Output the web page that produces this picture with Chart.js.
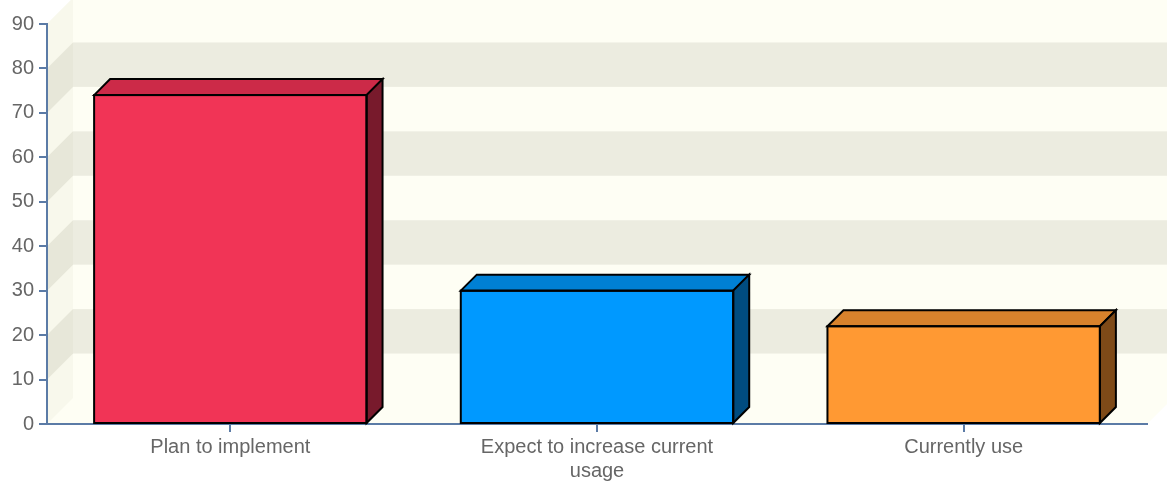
<!DOCTYPE html>
<html lang="en">
<head>
    <meta charset="UTF-8">
    <title>Usage chart</title>
    <script src="https://cdn.jsdelivr.net/npm/chart.js"></script>
    <style>
        body {
            margin: 0;
            padding: 0;
            background: #ffffff;
        }
        #wrap {
            width: 1167px;
            height: 487px;
        }
    </style>
</head>
<body>
    <div id="wrap">
        <canvas id="usageChart" width="1167" height="487"></canvas>
    </div>

    <script>
        // data
        const categories = ['Plan to implement', ['Expect to increase current', 'usage'], 'Currently use'];
        const values = [74, 30, 22];
        const yTicks = { min: 0, max: 90, step: 10 };

        // face colours for each bar
        const frontColors = ['#F13456', '#0099FF', '#FF9933'];
        const topColors = ['#CC2A48', '#0080D4', '#D8822C'];
        const sideColors = ['#781A2C', '#004C80', '#7E4A18'];

        const axisColor = '#5B7BA6';
        const textColor = '#666666';

        // cream walls, floor and the shaded bands behind the bars
        const wallsPlugin = {
            id: 'walls',
            beforeDraw(chart) {
                const { ctx, chartArea, scales } = chart;
                const { left, right, top, bottom } = chartArea;
                const y = scales.y;
                const d = 26;
                const W = chart.width;
                ctx.save();

                ctx.fillStyle = '#FEFEF4';
                ctx.beginPath();
                ctx.moveTo(left, bottom);
                ctx.lineTo(left, top);
                ctx.lineTo(left + d, top - d);
                ctx.lineTo(W, top - d);
                ctx.lineTo(W, bottom - d);
                ctx.lineTo(right + d, bottom - d);
                ctx.lineTo(right, bottom);
                ctx.closePath();
                ctx.fill();

                // side wall a touch darker
                ctx.fillStyle = '#F8F8EC';
                ctx.beginPath();
                ctx.moveTo(left, bottom);
                ctx.lineTo(left, top);
                ctx.lineTo(left + d, top - d);
                ctx.lineTo(left + d, bottom - d);
                ctx.closePath();
                ctx.fill();

                // every other tick interval is shaded
                const ticks = y.ticks;
                for (let i = 1; i < ticks.length - 1; i += 2) {
                    const ya = y.getPixelForValue(ticks[i].value);
                    const yb = y.getPixelForValue(ticks[i + 1].value);
                    ctx.fillStyle = '#ECECE0';
                    ctx.fillRect(left + d, yb - d, W - left - d, ya - yb);
                    ctx.fillStyle = '#E7E7D9';
                    ctx.beginPath();
                    ctx.moveTo(left, ya);
                    ctx.lineTo(left, yb);
                    ctx.lineTo(left + d, yb - d);
                    ctx.lineTo(left + d, ya - d);
                    ctx.closePath();
                    ctx.fill();
                }
                ctx.restore();
            }
        };

        // top and right faces to give the bars depth
        const boxPlugin = {
            id: 'boxes',
            afterDatasetsDraw(chart) {
                const ctx = chart.ctx;
                const meta = chart.getDatasetMeta(0);
                const dd = 16;
                ctx.save();
                ctx.lineWidth = 2;
                ctx.strokeStyle = '#000000';
                ctx.lineJoin = 'miter';
                meta.data.forEach((bar, i) => {
                    const p = bar.getProps(['x', 'y', 'base', 'width'], true);
                    const l = p.x - p.width / 2;
                    const r = p.x + p.width / 2;

                    ctx.fillStyle = topColors[i];
                    ctx.beginPath();
                    ctx.moveTo(l, p.y);
                    ctx.lineTo(l + dd, p.y - dd);
                    ctx.lineTo(r + dd, p.y - dd);
                    ctx.lineTo(r, p.y);
                    ctx.closePath();
                    ctx.fill();
                    ctx.stroke();

                    ctx.fillStyle = sideColors[i];
                    ctx.beginPath();
                    ctx.moveTo(r, p.y);
                    ctx.lineTo(r + dd, p.y - dd);
                    ctx.lineTo(r + dd, p.base - dd);
                    ctx.lineTo(r, p.base);
                    ctx.closePath();
                    ctx.fill();
                    ctx.stroke();

                    ctx.strokeRect(l, p.y, r - l, p.base - p.y);
                });
                ctx.restore();
            }
        };

        const ctx = document.getElementById('usageChart').getContext('2d');
        new Chart(ctx, {
            type: 'bar',
            data: {
                labels: categories,
                datasets: [{
                    data: values,
                    backgroundColor: frontColors,
                    borderWidth: 0,
                    categoryPercentage: 1,
                    barPercentage: 0.743
                }]
            },
            options: {
                responsive: false,
                animation: false,
                layout: {
                    padding: { top: 24, right: 20, left: 0, bottom: 0 }
                },
                plugins: {
                    legend: { display: false },
                    tooltip: { enabled: false }
                },
                scales: {
                    x: {
                        afterFit(scale) { scale.height = 63; },
                        border: { color: axisColor, width: 2 },
                        grid: {
                            offset: false,
                            drawOnChartArea: false,
                            drawTicks: true,
                            tickLength: 8,
                            color: axisColor,
                            lineWidth: 2
                        },
                        ticks: {
                            color: textColor,
                            padding: 3,
                            maxRotation: 0,
                            font: { family: 'Liberation Sans', size: 20, lineHeight: 1.2 }
                        }
                    },
                    y: {
                        min: yTicks.min,
                        max: yTicks.max,
                        afterFit(scale) { scale.width = 47; },
                        border: { color: axisColor, width: 2 },
                        grid: {
                            drawOnChartArea: false,
                            drawTicks: true,
                            tickLength: 8,
                            color: axisColor,
                            lineWidth: 2
                        },
                        ticks: {
                            stepSize: yTicks.step,
                            color: textColor,
                            padding: 5,
                            font: { family: 'Liberation Sans', size: 20 }
                        }
                    }
                }
            },
            plugins: [wallsPlugin, boxPlugin]
        });
    </script>
</body>
</html>
